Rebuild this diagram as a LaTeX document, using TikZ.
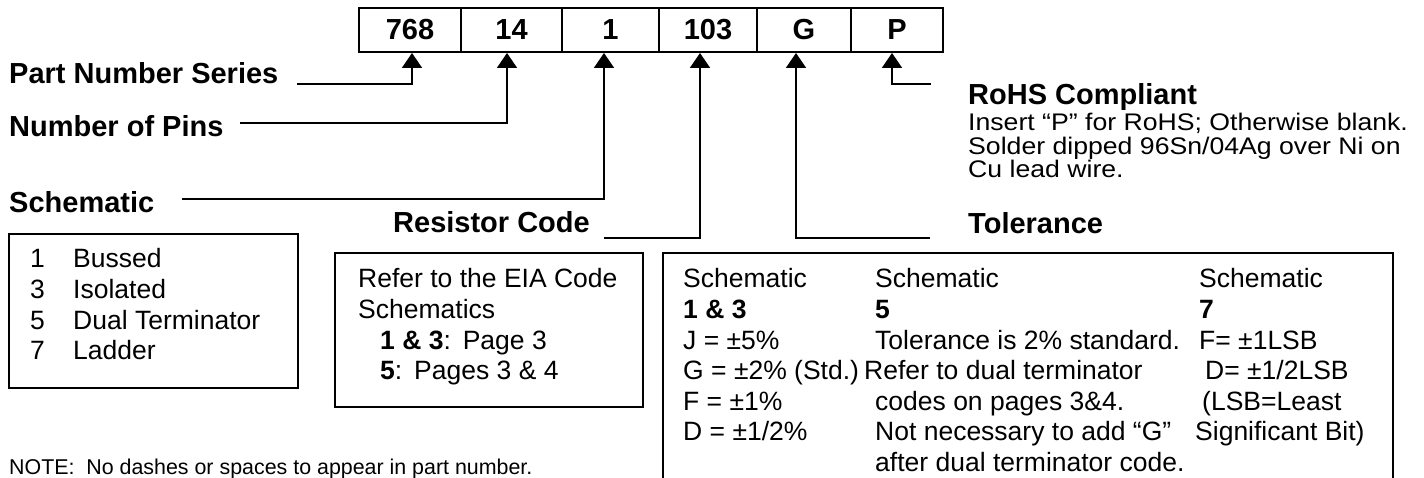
\documentclass[tikz,border=0pt]{standalone}
\usepackage{fontspec}
\setmainfont{Liberation Sans}
\usetikzlibrary{arrows.meta}
\tikzset{
  lbl/.style={font=\fontsize{29}{33}\selectfont\bfseries, inner sep=0pt, anchor=base west},
  txt/.style={font=\fontsize{26.5}{30.5}\selectfont, inner sep=0pt, anchor=base west},
  rtxt/.style={font=\fontsize{24}{23.3}\selectfont, inner sep=0pt, anchor=base west},
  notetxt/.style={font=\fontsize{21.4}{24}\selectfont, inner sep=0pt, anchor=base west},
  cell/.style={draw, line width=2pt, minimum height=44pt, inner sep=0pt, font=\fontsize{29}{33}\selectfont\bfseries},
  frame/.style={draw, line width=2pt, inner sep=0pt, anchor=north west},
  conn/.style={line width=1.8pt, -{Triangle[length=15pt,width=20pt]}}
}
\begin{document}
\begin{tikzpicture}[x=1pt,y=-1pt]
\useasboundingbox (0,0) rectangle (1424,478);
\clip (0,0) rectangle (1424,478);
% part number cells
\node[cell, minimum width=102pt] (c768) at (410,30) {768};
\node[cell, minimum width=101pt] (c14) at (511.5,30) {14};
\node[cell, minimum width=97pt] (c1) at (610.5,30) {1};
\node[cell, minimum width=98pt] (c103) at (708,30) {103};
\node[cell, minimum width=94pt] (cG) at (804,30) {G};
\node[cell, minimum width=92pt] (cP) at (897,30) {P};
% labels
\node[lbl] (lpns) at (9,84) {Part Number Series};
\node[lbl] (lpins) at (9,137) {Number of Pins};
\node[lbl] (lsch) at (9,213) {Schematic};
\node[lbl] (lres) at (393,233) {Resistor Code};
\node[lbl] (ltol) at (968,234) {Tolerance};
\node[lbl] (lrohs) at (968,105) {RoHS Compliant};
% connector bends
\coordinate (s768) at (297,84);  \coordinate (k768) at (412,84);
\coordinate (s14) at (240,123);  \coordinate (k14) at (507,123);
\coordinate (s1) at (182,199);   \coordinate (k1) at (604,199);
\coordinate (s103) at (604,238); \coordinate (k103) at (700,238);
\coordinate (sG) at (930,238);   \coordinate (kG) at (796,238);
\coordinate (sP) at (931,84);    \coordinate (kP) at (892,84);
\draw[conn] (s768) -- (k768) -- (k768 |- c768.south);
\draw[conn] (s14) -- (k14) -- (k14 |- c14.south);
\draw[conn] (s1) -- (k1) -- (k1 |- c1.south);
\draw[conn] (s103) -- (k103) -- (k103 |- c103.south);
\draw[conn] (sG) -- (kG) -- (kG |- cG.south);
\draw[conn] (sP) -- (kP) -- (kP |- cP.south);
% RoHS text
\node[rtxt] (r1) at (968,131) {\scalebox{1.11}[1]{Insert “P” for RoHS; Otherwise blank.}};
\node[rtxt] (r2) at (968,154.3) {\scalebox{1.11}[1]{Solder dipped 96Sn/04Ag over Ni on}};
\node[rtxt] (r3) at (968,177.6) {\scalebox{1.11}[1]{Cu lead wire.}};
% schematic box
\node[frame, minimum width=289pt, minimum height=154pt] (schbox) at (8,233) {};
\node[txt] (n1) at (30,268) {1};   \node[txt] (t1) at (73,268) {Bussed};
\node[txt] (n3) at (30,298.5) {3}; \node[txt] (t3) at (73,298.5) {Isolated};
\node[txt] (n5) at (30,329) {5};   \node[txt] (t5) at (73,329) {Dual Terminator};
\node[txt] (n7) at (30,359.5) {7}; \node[txt] (t7) at (73,359.5) {Ladder};
% resistor code box
\node[frame, minimum width=308pt, minimum height=154pt] (resbox) at (334,252) {};
\node[txt] (e1) at (358,288) {Refer to the EIA Code};
\node[txt] (e2) at (358,318.5) {Schematics};
\node[txt] (e3) at (380,349) {\textbf{1 \& 3}:\hspace{0.45em}Page 3};
\node[txt] (e4) at (380,379.5) {\textbf{5}:\hspace{0.45em}Pages 3 \& 4};
% tolerance box
\node[frame, minimum width=730pt, minimum height=260pt] (tolbox) at (662,252) {};
\node[txt] (a1) at (683,288) {Schematic};
\node[txt] (a2) at (683,318.5) {\textbf{1 \& 3}};
\node[txt] (a3) at (683,349) {J = ±5\%};
\node[txt] (a4) at (683,379.5) {G = ±2\% (Std.)};
\node[txt] (a5) at (683,410) {F = ±1\%};
\node[txt] (a6) at (683,440.5) {D = ±1/2\%};
\node[txt] (b1) at (875,288) {Schematic};
\node[txt] (b2) at (875,318.5) {\textbf{5}};
\node[txt] (b3) at (875,349) {Tolerance is 2\% standard.};
\node[txt] (b4) at (864,379.5) {Refer to dual terminator};
\node[txt] (b5) at (875,410) {codes on pages 3\&4.};
\node[txt] (b6) at (875,440.5) {Not necessary to add “G”};
\node[txt] (b7) at (875,471) {after dual terminator code.};
\node[txt] (d1) at (1199,288) {Schematic};
\node[txt] (d2) at (1199,318.5) {\textbf{7}};
\node[txt] (d3) at (1199,349) {F= ±1LSB};
\node[txt] (d4) at (1205,379.5) {D= ±1/2LSB};
\node[txt] (d5) at (1202,410) {(LSB=Least};
\node[txt] (d6) at (1195,440.5) {Significant Bit)};
% note
\node[notetxt] (note) at (9,474) {NOTE:\hspace{0.55em}No dashes or spaces to appear in part number.};
\end{tikzpicture}
\end{document}
